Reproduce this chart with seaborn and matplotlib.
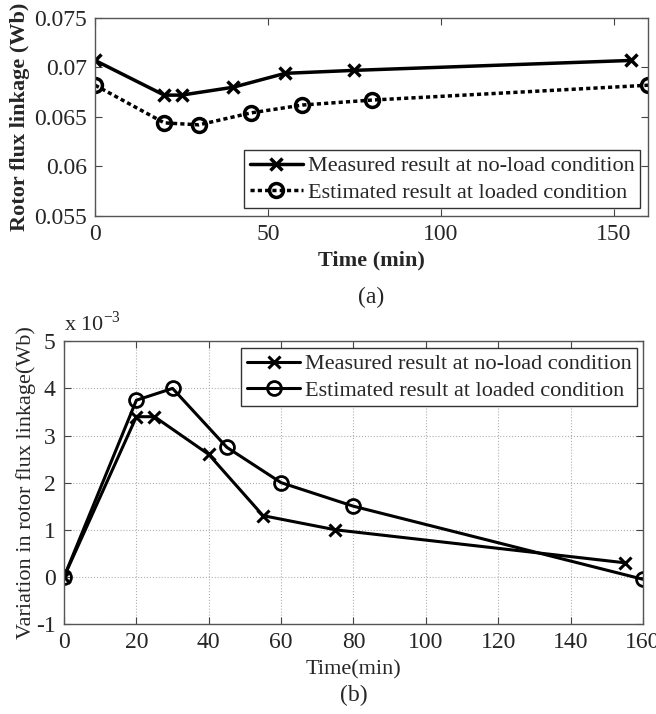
import numpy as np
import pandas as pd
import seaborn as sns
import matplotlib
matplotlib.use('Agg')
from matplotlib import pyplot as plt
from matplotlib.ticker import FixedLocator, FuncFormatter

# data
t_measured = [0, 20, 25, 40, 55, 75, 155]
t_estimated = [0, 20, 30, 45, 60, 80, 160]
flux_measured = [0.0707, 0.0672, 0.0672, 0.0680, 0.0694, 0.0697, 0.0707]
flux_estimated = [0.0682, 0.0644, 0.0642, 0.0654, 0.0662, 0.0667, 0.0682]
# variation, in units of 1e-3 Wb
var_measured = [0.0, 3.4, 3.4, 2.6, 1.3, 1.0, 0.3]
var_estimated = [0.0, 3.75, 4.0, 2.75, 2.0, 1.5, -0.05]

lab_meas = 'Measured result at no-load condition'
lab_est = 'Estimated result at loaded condition'

sns.set_style('ticks')
plt.rcParams['font.family'] = ['Liberation Serif', 'DejaVu Serif']
plt.rcParams['mathtext.fontset'] = 'custom'
plt.rcParams['mathtext.rm'] = 'Liberation Serif'
plt.rcParams['axes.unicode_minus'] = False
plt.rcParams['xtick.direction'] = 'in'
plt.rcParams['ytick.direction'] = 'in'

fig = plt.figure(figsize=(6.56, 7.14), dpi=100)
ax1 = fig.add_axes([0.145, 0.6975, 0.843, 0.2775])
ax2 = fig.add_axes([0.0976, 0.126, 0.8824, 0.396])

fs = 16
tfs = 17

# (a)
sns.lineplot(x=t_measured, y=flux_measured, ax=ax1, color='black', linewidth=2.5,
             marker='x', markersize=8, markeredgewidth=2.5, markeredgecolor='black',
             label=lab_meas, sort=False)
sns.lineplot(x=t_estimated, y=flux_estimated, ax=ax1, color='black', linewidth=2.5,
             linestyle=(0, (1.2, 0.9)), marker='o', markersize=10, markeredgewidth=2.5,
             markerfacecolor='none', markeredgecolor='black', label=lab_est, sort=False)
ax1.set_xlim(0, 160)
ax1.set_ylim(0.055, 0.075)
ax1.xaxis.set_major_locator(FixedLocator([0, 50, 100, 150]))
ax1.yaxis.set_major_locator(FixedLocator([0.055, 0.06, 0.065, 0.07, 0.075]))
ax1.yaxis.set_major_formatter(FuncFormatter(lambda v, p: ('%.3f' % v).rstrip('0')))
ax1.set_xlabel('Time (min)', fontsize=fs, fontweight='bold', labelpad=4)
ax1.set_ylabel('Rotor flux linkage (Wb)', fontsize=fs, fontweight='bold', labelpad=3)
ax1.legend(loc='lower right', bbox_to_anchor=(0.985, 0.04), fontsize=fs, frameon=True,
           fancybox=False, edgecolor='#333333', framealpha=1, handlelength=2.4,
           borderpad=0.25, labelspacing=0.25, handletextpad=0.2, borderaxespad=0)
ax1.text(0.5, -0.36, '(a)', transform=ax1.transAxes, ha='center', va='top', fontsize=tfs)

# (b)
sns.lineplot(x=t_measured, y=var_measured, ax=ax2, color='black', linewidth=2.2,
             marker='x', markersize=8, markeredgewidth=2.2, markeredgecolor='black',
             label=lab_meas, sort=False)
sns.lineplot(x=t_estimated, y=var_estimated, ax=ax2, color='black', linewidth=2.2,
             marker='o', markersize=10, markeredgewidth=2.0,
             markerfacecolor='none', markeredgecolor='black', label=lab_est, sort=False)
ax2.set_xlim(0, 160)
ax2.set_ylim(-1, 5)
ax2.xaxis.set_major_locator(FixedLocator(list(range(0, 161, 20))))
ax2.yaxis.set_major_locator(FixedLocator([-1, 0, 1, 2, 3, 4, 5]))
ax2.grid(True, linestyle=':', color='#b0b0b0', linewidth=0.8)
ax2.set_xlabel('Time(min)', fontsize=fs, labelpad=5)
ax2.set_ylabel('Variation in rotor flux linkage(Wb)', fontsize=fs, labelpad=0)
ax2.legend(loc='upper right', bbox_to_anchor=(0.99, 0.975), fontsize=fs, frameon=True,
           fancybox=False, edgecolor='#333333', framealpha=1, handlelength=2.4,
           borderpad=0.25, labelspacing=0.25, handletextpad=0.2, borderaxespad=0)
ax2.text(0.0, 1.02, r'x 10$^{\mathregular{-3}}$', transform=ax2.transAxes,
         ha='left', va='bottom', fontsize=fs)
ax2.text(0.5, -0.215, '(b)', transform=ax2.transAxes, ha='center', va='top', fontsize=tfs)

for ax in (ax1, ax2):
    ax.tick_params(labelsize=tfs, top=True, right=True, length=5, color='#444444', pad=6)
    for s in ax.spines.values():
        s.set_color('#555555')
        s.set_linewidth(1.0)

fig.savefig('out.png', dpi=100)
